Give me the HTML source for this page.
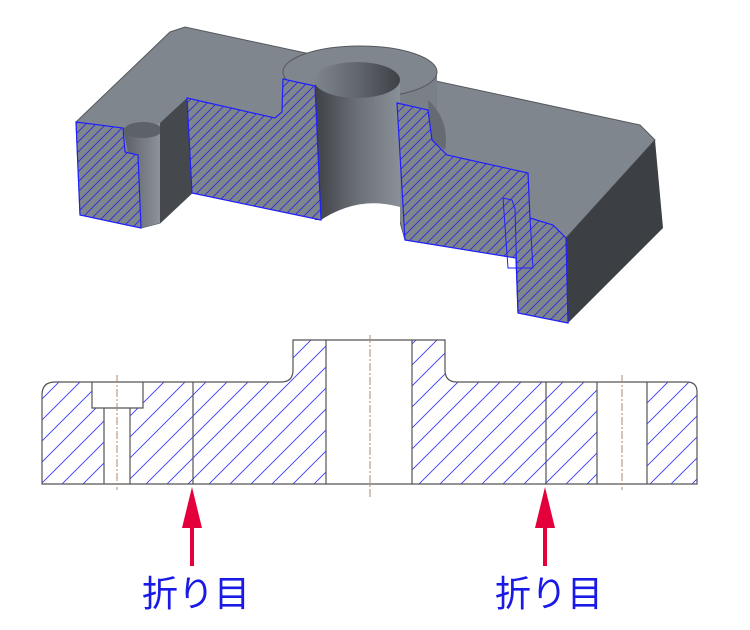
<!DOCTYPE html>
<html><head><meta charset="utf-8"><style>
html,body{margin:0;padding:0;background:#fff;width:750px;height:630px;overflow:hidden}
svg{display:block}
.t{font-family:"Liberation Sans","Noto Sans CJK JP",sans-serif;font-size:36px;fill:#1a1ae6}
</style></head><body>
<svg width="750" height="630" viewBox="0 0 750 630" xmlns="http://www.w3.org/2000/svg">
<defs>
<pattern id="h3" patternUnits="userSpaceOnUse" width="10" height="10">
<rect width="10" height="10" fill="#7f858c"/>
<path d="M-1,11 L11,-1 M-6,6 L6,-6 M4,16 L16,4" stroke="#2b2bd8" stroke-width="0.9"/>
</pattern>
<pattern id="h2" patternUnits="userSpaceOnUse" width="21" height="21">
<path d="M-1,22 L22,-1 M-11,11 L11,-11 M10,32 L32,10" stroke="#3b3bff" stroke-width="0.9"/>
</pattern>
<linearGradient id="cyl" x1="0" x2="1" y1="0" y2="0">
<stop offset="0" stop-color="#3e4146"/><stop offset="0.5" stop-color="#6b7077"/><stop offset="1" stop-color="#8a9097"/>
</linearGradient>
<linearGradient id="cylr" x1="1" x2="0" y1="0" y2="0">
<stop offset="0" stop-color="#3e4146"/><stop offset="0.5" stop-color="#62676e"/><stop offset="1" stop-color="#7f858c"/>
</linearGradient>
<linearGradient id="cyl2" x1="0" x2="1">
<stop offset="0" stop-color="#5a5e64"/><stop offset="1" stop-color="#8d939a"/>
</linearGradient>
</defs>

<!-- 3D part -->
<polygon points="76,122 170,32 185,27 640,125 655,140 566,238 568,323 518,313 516,258 405,240 400,222 321,220 192,193 160,223 141,228 80,215" fill="#80868d" stroke="#55595e" stroke-width="1"/>
<polygon points="566,238 655,140 663,228 568,323" fill="#3c3f44"/>
<!-- boss -->
<rect x="283" y="72" width="154" height="42" fill="#7a8087"/>
<path d="M428,100 Q450,120 445,150 L430,140 Z" fill="#666b72"/>
<ellipse cx="360" cy="72" rx="77" ry="26" fill="#80868d" stroke="#55595e"/>
<rect x="315" y="80" width="85" height="140" fill="url(#cyl)"/>
<ellipse cx="357" cy="80" rx="43" ry="18" fill="url(#cylr)"/>
<path d="M318,222 Q357,195 400,207 L400,225 L318,225 Z" fill="#fff"/>
<!-- left features -->
<polygon points="123,128 160,123 160,223 141,228 138,155 128,152" fill="url(#cyl2)"/>
<ellipse cx="143" cy="130" rx="19" ry="8" fill="#5d6268"/>
<polygon points="160,123 187,98 192,193 160,223" fill="#45484d"/>
<!-- sections -->
<polygon points="76,122 123,128 125,152 138,155 141,228 80,215" fill="url(#h3)" stroke="#1f1fff" stroke-width="1.2"/>
<polygon points="187,98 275,118 282,112 283,79 315,86 321,220 192,193" fill="url(#h3)" stroke="#1f1fff" stroke-width="1.2"/>
<polygon points="397,103 428,110 432,140 447,155 528,173 530,218 553,225 566,238 568,323 518,313 516,258 405,240" fill="url(#h3)" stroke="#1f1fff" stroke-width="1.2"/>
<path d="M503,198 L512,200 L515,209 L518,313 M503,198 L508,268 L533,268 L530,218" fill="none" stroke="#1f1fff" stroke-width="1"/>

<!-- 2D section -->
<g>
<path d="M42,484 L42,395 Q42,382 55,382 L92,382 L92,408 L104,408 L104,484 Z" fill="url(#h2)"/>
<path d="M130,484 L130,408 L143,408 L143,382 L193,382 L193,484 Z" fill="url(#h2)"/>
<path d="M193,484 L193,382 L281,382 Q293,382 293,370 L293,340 L326,340 L326,484 Z" fill="url(#h2)"/>
<path d="M412,484 L412,340 L445,340 L445,370 Q445,382 457,382 L546,382 L546,484 Z" fill="url(#h2)"/>
<path d="M546,484 L546,382 L597,382 L597,484 Z" fill="url(#h2)"/>
<path d="M647,484 L647,382 L687,382 Q697,382 697,392 L697,484 Z" fill="url(#h2)"/>
<g fill="none" stroke="#555" stroke-width="1.2">
<path d="M42,484 L42,395 Q42,382 55,382 L281,382 Q293,382 293,370 L293,340 L445,340 L445,370 Q445,382 457,382 L687,382 Q697,382 697,392 L697,484 Z"/>
<path d="M92,382 L92,408 L143,408 L143,382 M104,408 L104,484 M130,408 L130,484 M193,382 L193,484 M326,340 L326,484 M412,340 L412,484 M546,382 L546,484 M597,382 L597,484 M647,382 L647,484"/>
</g>
<rect x="93" y="383" width="49" height="24" fill="#fff"/>
<rect x="327" y="341" width="84" height="142" fill="#fff"/>
<rect x="598" y="383" width="48" height="100" fill="#fff"/>
<rect x="105" y="409" width="24" height="74" fill="#fff"/>
<g stroke="#b08868" stroke-width="1" stroke-dasharray="8,2,2,2" fill="none">
<path d="M117,375 L117,490 M370,335 L370,497 M622,375 L622,490"/>
</g>
</g>

<!-- arrows -->
<g fill="#e4003a">
<polygon points="192,487 202,528 194,528 194,566 190,566 190,528 182,528"/>
<polygon points="545,487 555,528 547,528 547,566 543,566 543,528 535,528"/>
</g>
<text class="t" x="142" y="606">折り目</text>
<text class="t" x="495" y="606">折り目</text>
</svg>
</body></html>
